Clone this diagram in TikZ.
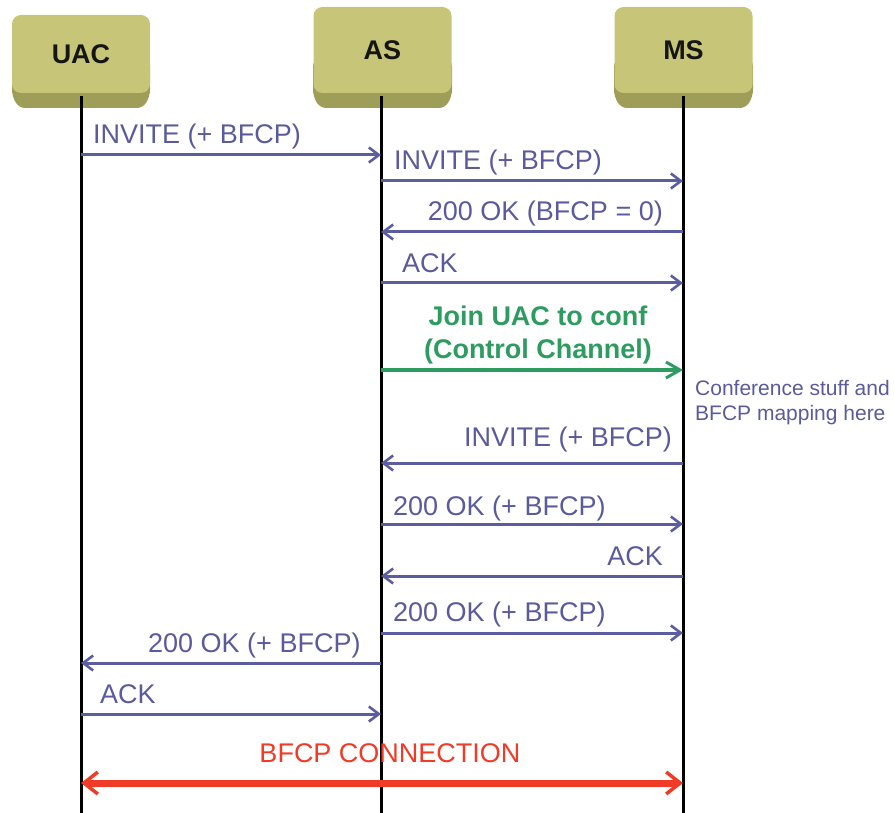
\documentclass[tikz,border=0pt]{standalone}
\usepackage{fontspec}
\setmainfont{Liberation Sans}
\usetikzlibrary{arrows.meta}
\definecolor{boxface}{HTML}{C6C578}
\definecolor{boxside}{HTML}{9F9E58}
\definecolor{boxtext}{HTML}{151515}
\definecolor{msgline}{HTML}{5C5CA0}
\definecolor{msgtext}{HTML}{5A5A9C}
\definecolor{ctrl}{HTML}{2E9B60}
\definecolor{bfcp}{HTML}{EF3B28}
\begin{document}
\begin{tikzpicture}[x=1pt,y=-1pt,
  entity/.style={fill=boxface, rounded corners=9pt, minimum width=138pt,
    inner sep=0pt, text=boxtext, font=\fontsize{27}{30}\selectfont\bfseries},
  lifeline/.style={draw=black, line width=3pt},
  msg/.style={draw=msgline, line width=3pt,
    -{Straight Barb[length=10pt,width=15pt,line width=2.6pt]}},
  ctrlmsg/.style={draw=ctrl, line width=4.5pt,
    -{Straight Barb[length=14pt,width=16pt,line width=3pt]}},
  bfcpmsg/.style={draw=bfcp, line width=7pt,
    {Straight Barb[length=14pt,width=22pt,line width=3.5pt]}-{Straight Barb[length=14pt,width=22pt,line width=3.5pt]}},
  lbl/.style={text=msgtext, inner sep=0pt, font=\fontsize{27}{30}\selectfont},
  ctrllbl/.style={text=ctrl, inner sep=0pt, font=\fontsize{27}{30}\selectfont\bfseries},
  notelbl/.style={text=msgtext, inner sep=0pt, align=left, font=\fontsize{21}{25}\selectfont},
  bfcplbl/.style={text=bfcp, inner sep=0pt, font=\fontsize{27}{30}\selectfont}]
\useasboundingbox (0,0) rectangle (895,813);

% darker lower edge of the entity boxes
\foreach \l/\r in {12/150, 313/452, 614/753}
  \fill[boxside, rounded corners=6pt] (\l,60) -- (\l,96) -- (\l+7,108) -- (\r-7,108) -- (\r,96) -- (\r,60) -- cycle;

% entity boxes
\node[entity, minimum height=78pt] (uac) at (81,54) {UAC};
\node[entity, minimum height=86pt] (as)  at (382.5,50) {AS};
\node[entity, minimum height=86pt] (ms)  at (683.5,50) {MS};

% lifelines
\coordinate (uacend) at (81,813);
\coordinate (asend)  at (381,813);
\coordinate (msend)  at (683,813);
\draw[lifeline] (81,96) -- (uacend);
\draw[lifeline] (381,96) -- (asend);
\draw[lifeline] (683,96) -- (msend);

% message end points
\coordinate (m1a) at (81,155);   \coordinate (m1b) at (381,155);
\coordinate (m2a) at (381,181);  \coordinate (m2b) at (683,181);
\coordinate (m3a) at (683,232);  \coordinate (m3b) at (381,232);
\coordinate (m4a) at (381,283);  \coordinate (m4b) at (683,283);
\coordinate (m5a) at (381,370);  \coordinate (m5b) at (683,370);
\coordinate (m6a) at (683,463);  \coordinate (m6b) at (381,463);
\coordinate (m7a) at (381,524);  \coordinate (m7b) at (683,524);
\coordinate (m8a) at (683,576);  \coordinate (m8b) at (381,576);
\coordinate (m9a) at (381,633);  \coordinate (m9b) at (683,633);
\coordinate (m10a) at (381,663); \coordinate (m10b) at (81,663);
\coordinate (m11a) at (81,714);  \coordinate (m11b) at (381,714);
\coordinate (m12a) at (81,783);  \coordinate (m12b) at (683,783);

% messages
\draw[msg] (m1a) -- (m1b);
\node[lbl, anchor=base west] (l1) at (93,144) {INVITE (+ BFCP)};
\draw[msg] (m2a) -- (m2b);
\node[lbl, anchor=base west] (l2) at (394,170) {INVITE (+ BFCP)};
\draw[msg] (m3a) -- (m3b);
\node[lbl, anchor=base east] (l3) at (663,221) {200 OK (BFCP = 0)};
\draw[msg] (m4a) -- (m4b);
\node[lbl, anchor=base west] (l4) at (402,273) {ACK};

\draw[ctrlmsg] (m5a) -- (m5b);
\node[ctrllbl, anchor=base] (l5a) at (538,326) {Join UAC to conf};
\node[ctrllbl, anchor=base] (l5b) at (538,359) {(Control Channel)};
% the base anchor of this two-line note sits on its last line
\node[notelbl, anchor=base west] (note) at (695,420) {Conference stuff and\\BFCP mapping here};

\draw[msg] (m6a) -- (m6b);
\node[lbl, anchor=base east] (l6) at (672,446) {INVITE (+ BFCP)};
\draw[msg] (m7a) -- (m7b);
\node[lbl, anchor=base west] (l7) at (393,515) {200 OK (+ BFCP)};
\draw[msg] (m8a) -- (m8b);
\node[lbl, anchor=base east] (l8) at (663,565) {ACK};
\draw[msg] (m9a) -- (m9b);
\node[lbl, anchor=base west] (l9) at (393,621) {200 OK (+ BFCP)};
\draw[msg] (m10a) -- (m10b);
\node[lbl, anchor=base west] (l10) at (148,652) {200 OK (+ BFCP)};
\draw[msg] (m11a) -- (m11b);
\node[lbl, anchor=base west] (l11) at (100,703) {ACK};

\draw[bfcpmsg] (m12a) -- (m12b);
\node[bfcplbl, anchor=base] (l12) at (390,762) {BFCP CONNECTION};
\end{tikzpicture}
\end{document}
